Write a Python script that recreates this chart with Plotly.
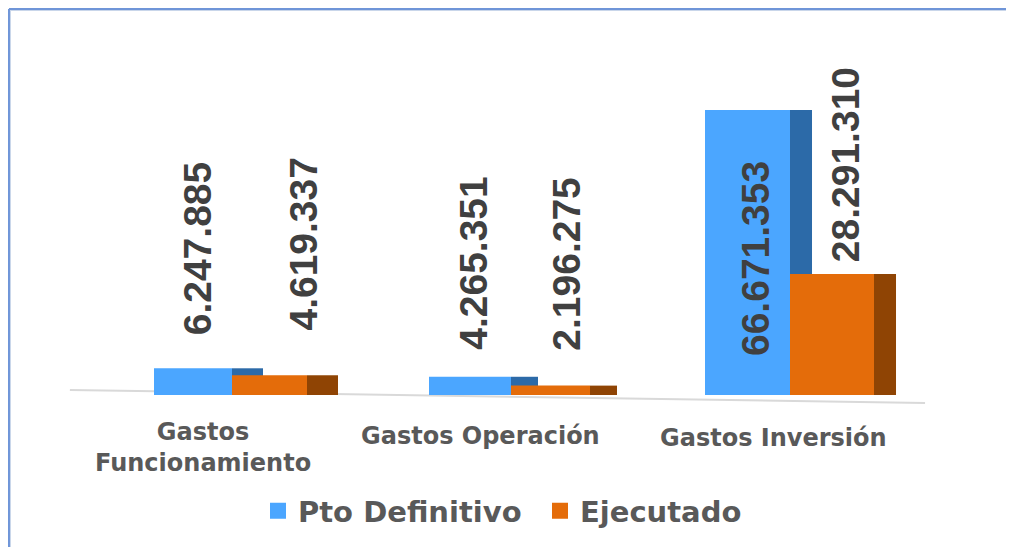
import plotly.graph_objects as go

# datos
categorias = ["Gastos<br>Funcionamiento", "Gastos Operación", "Gastos Inversión"]
pto_definitivo = [6247885, 4265351, 66671353]
ejecutado = [4619337, 2196275, 28291310]
series = ["Pto Definitivo", "Ejecutado"]

# colores
azul, azul_lado = "#4BA6FF", "#2C6AA8"
naranja, naranja_lado = "#E46C0A", "#8F4404"
gris_texto = "#404040"
gris_cat = "#595959"

# geometria (px -> unidades del eje x, 279 px por grupo)
px_x = 279.0
w_azul = [78 / px_x, 82 / px_x, 85 / px_x]
w_naranja = [75 / px_x, 79 / px_x, 84 / px_x]
prof = [31 / px_x, 27 / px_x, 22 / px_x]

xs = list(range(len(categorias)))


def fmt(v):
    return f"{v:,}".replace(",", ".")


fig = go.Figure()

# caras laterales y frontales (pseudo 3D)
fig.add_trace(go.Bar(x=xs, y=pto_definitivo, width=prof, offset=0,
                     marker=dict(color=azul_lado, line_width=0), showlegend=False, hoverinfo="skip"))
fig.add_trace(go.Bar(x=xs, y=pto_definitivo, width=w_azul, offset=[-w for w in w_azul],
                     marker=dict(color=azul, line_width=0), showlegend=False, name=series[0]))
fig.add_trace(go.Bar(x=xs, y=ejecutado, width=prof, offset=w_naranja,
                     marker=dict(color=naranja_lado, line_width=0), showlegend=False, hoverinfo="skip"))
fig.add_trace(go.Bar(x=xs, y=ejecutado, width=w_naranja, offset=0,
                     marker=dict(color=naranja, line_width=0), showlegend=False, name=series[1]))

# leyenda
for nombre, col in zip(series, [azul, naranja]):
    fig.add_trace(go.Scatter(x=[None], y=[None], mode="markers", name=nombre,
                             marker=dict(symbol="square", size=18, color=col)))

# etiquetas de datos
lbl_font = dict(family="Liberation Sans", size=39, color=gris_texto, weight="bold")
shift_azul = [31, 25, None]   # None -> dentro de la barra
shift_naranja = [43, 33, 10]
dx_naranja = [9, -5, -4]
for i in xs:
    v = pto_definitivo[i]
    if shift_azul[i] is None:
        fig.add_annotation(x=i - w_azul[i] / 2, y=v / 2, text=fmt(v), textangle=-90,
                           showarrow=False, yanchor="middle", xshift=8, yshift=-6, font=lbl_font)
    else:
        fig.add_annotation(x=i - w_azul[i] / 2, y=v, text=fmt(v), textangle=-90,
                           showarrow=False, yanchor="bottom", yshift=shift_azul[i], xshift=4,
                           font=lbl_font)
    v = ejecutado[i]
    fig.add_annotation(x=i + w_naranja[i] / 2 + prof[i] * 0.8, y=v, text=fmt(v), textangle=-90,
                       showarrow=False, yanchor="bottom", yshift=shift_naranja[i],
                       xshift=dx_naranja[i], font=lbl_font)

# etiquetas de categoria
dx_cat = [-29, -31, -17]
dy_cat = [4, 0, -2]
for i, c in enumerate(categorias):
    fig.add_annotation(x=i, xshift=dx_cat[i], y=-0.027, yref="paper", yanchor="top",
                       yshift=dy_cat[i], text=c, showarrow=False, align="center",
                       font=dict(family="DejaVu Sans", size=24, color=gris_cat, weight="bold"))

# linea base
fig.add_shape(type="line", x0=-0.581, x1=2.484, y0=1.17e6, y1=-1.87e6,
              line=dict(color="#D9D9D9", width=2), layer="below")

# borde del grafico (solo arriba e izquierda visibles)
for col, w in [("#C9D6EA", 4), ("#6F95D8", 2)]:
    fig.add_shape(type="line", xref="paper", yref="paper", x0=-0.0567, x1=1.3, y0=1.0838, y1=1.0838,
                  line=dict(color=col, width=w))
    fig.add_shape(type="line", xref="paper", yref="paper", x0=-0.0567, x1=-0.0567, y0=-0.45, y1=1.0838,
                  line=dict(color=col, width=w))

fig.update_layout(
    width=1014, height=547,
    margin=dict(l=52, r=62, t=32, b=145),
    barmode="overlay",
    paper_bgcolor="white", plot_bgcolor="white",
    xaxis=dict(range=[-0.6165, 2.6093], visible=False, fixedrange=True),
    yaxis=dict(range=[-3.509e6, 83.05e6], visible=False, fixedrange=True),
    showlegend=True,
    legend=dict(orientation="h", x=0.22, xanchor="left", y=-0.273, yanchor="middle",
                entrywidth=237, itemsizing="trace",
                font=dict(family="DejaVu Sans", size=29, color=gris_cat, weight="bold"),
                bgcolor="rgba(0,0,0,0)"),
)

fig.write_html("out.html")
